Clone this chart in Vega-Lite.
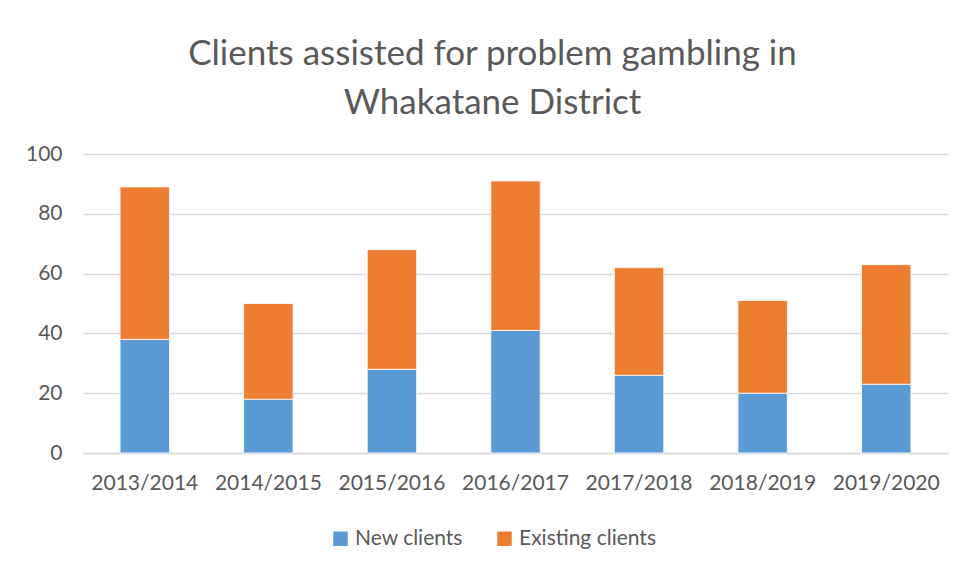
{
  "$schema": "https://vega.github.io/schema/vega-lite/v6.json",
  "width": 865,
  "height": 299,
  "autosize": {"type": "none"},
  "padding": {"left": 83, "top": 154, "right": 19, "bottom": 117},
  "background": "white",
  "title": {
    "text": ["Clients assisted for problem gambling in", "Whakatane District"],
    "fontSize": 35,
    "font": "Lato",
    "fontWeight": "normal",
    "color": "#595959",
    "lineHeight": 49,
    "anchor": "middle",
    "dx": -23,
    "offset": 22
  },
  "data": {
    "values": [
      {"year": "2013/2014", "series": "New clients", "value": 38},
      {"year": "2013/2014", "series": "Existing clients", "value": 51},
      {"year": "2014/2015", "series": "New clients", "value": 18},
      {"year": "2014/2015", "series": "Existing clients", "value": 32},
      {"year": "2015/2016", "series": "New clients", "value": 28},
      {"year": "2015/2016", "series": "Existing clients", "value": 40},
      {"year": "2016/2017", "series": "New clients", "value": 41},
      {"year": "2016/2017", "series": "Existing clients", "value": 50},
      {"year": "2017/2018", "series": "New clients", "value": 26},
      {"year": "2017/2018", "series": "Existing clients", "value": 36},
      {"year": "2018/2019", "series": "New clients", "value": 20},
      {"year": "2018/2019", "series": "Existing clients", "value": 31},
      {"year": "2019/2020", "series": "New clients", "value": 23},
      {"year": "2019/2020", "series": "Existing clients", "value": 40}
    ]
  },
  "mark": {"type": "bar", "stroke": "white", "strokeWidth": 0.8},
  "encoding": {
    "x": {
      "field": "year",
      "type": "nominal",
      "title": null,
      "scale": {"paddingInner": 0.6, "paddingOuter": 0.3},
      "axis": {
        "labelAngle": 0,
        "labelFont": "Lato",
        "labelFontSize": 21,
        "labelColor": "#595959",
        "labelPadding": 19,
        "ticks": false,
        "domainColor": "#d9d9d9",
        "domainWidth": 1.5,
        "grid": false
      }
    },
    "y": {
      "field": "value",
      "type": "quantitative",
      "title": null,
      "stack": "zero",
      "scale": {"domain": [0, 100]},
      "axis": {
        "values": [0, 20, 40, 60, 80, 100],
        "labelFont": "Lato",
        "labelFontSize": 21,
        "labelColor": "#595959",
        "labelPadding": 21,
        "ticks": false,
        "domain": false,
        "gridColor": "#d9d9d9",
        "gridWidth": 1.5
      }
    },
    "color": {
      "field": "series",
      "type": "nominal",
      "scale": {"domain": ["New clients", "Existing clients"], "range": ["#5B9BD5", "#ED7D31"]},
      "legend": {
        "title": null,
        "orient": "none",
        "direction": "horizontal",
        "legendX": 247,
        "legendY": 374,
        "symbolType": "square",
        "symbolSize": 210,
        "symbolStrokeWidth": 0,
        "labelFont": "Lato",
        "labelFontSize": 21,
        "labelColor": "#595959",
        "labelOffset": 4,
        "columnPadding": 31
      }
    },
    "order": {"field": "series", "sort": "descending"}
  },
  "config": {"view": {"stroke": null}}
}
